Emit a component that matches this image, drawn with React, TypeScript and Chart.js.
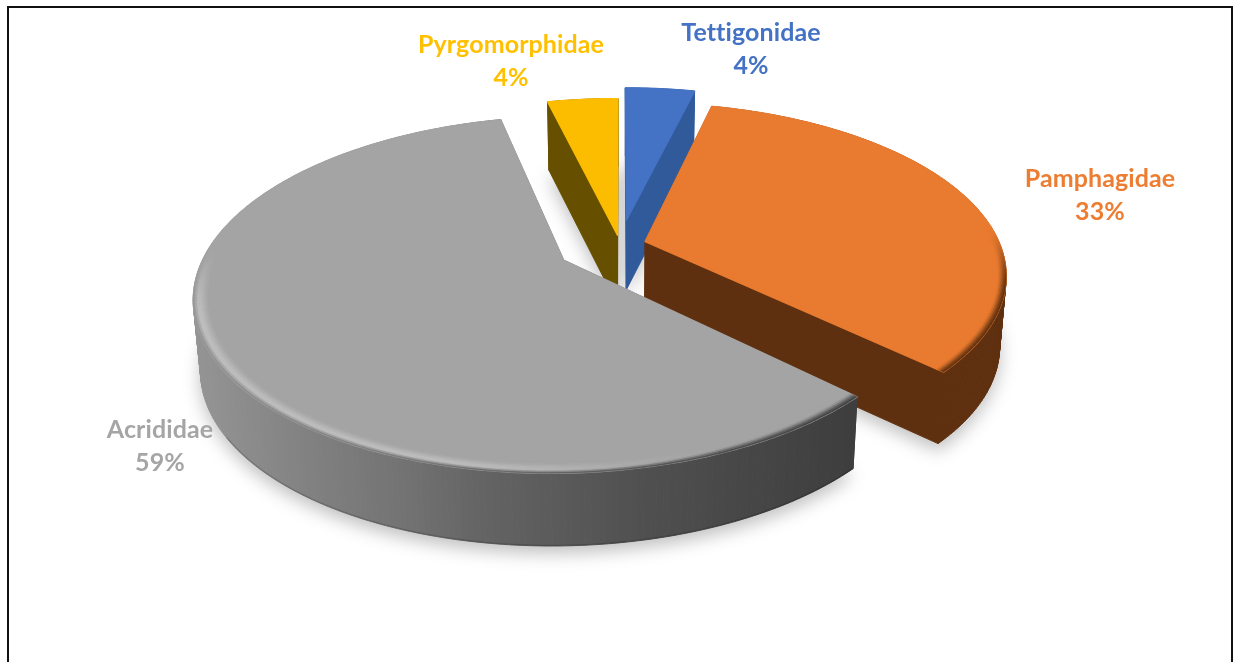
import React, { useEffect, useRef } from "react";
import { Chart, registerables } from "chart.js";

Chart.register(...registerables);

const categories = ["Tettigonidae", "Pamphagidae", "Acrididae", "Pyrgomorphidae"];
const seriesValues = [3.8, 33.3, 59.1, 3.8];
const sliceExplosion = [15.5, 7.4, 18, 6];
const topColors = ["#4472C4", "#E97B30", "#A4A4A4", "#FCBC00"];
const sideColors = ["#315A9B", "#5F300F", "#808080", "#665000"];
const labelColors = ["#4472C4", "#ED7D31", "#A5A5A5", "#FFC000"];
const labelAnchors = [[751, 33], [1100, 179], [160, 430], [511, 45]];

const W = 1233, H = 662;
const view = { x0: 620, y0: 245, p: 0.19 };
const topPlane = { a: 355, b: 166, d: 0 };
const basePlane = { a: 349, b: 168, d: 70 };

type Plane = { a: number; b: number; d: number };
const project = (u: number, v: number, pl: Plane) => {
  const w = 1 - view.p * v;
  return [view.x0 + (pl.a * u) / w, view.y0 + pl.d + (pl.b * v) / w];
};
const hex = (c: string) => [1, 3, 5].map((i) => parseInt(c.slice(i, i + 2), 16));
const mix = (a: number[], b: number[], t: number) => a.map((x, i) => x + (b[i] - x) * t);
const css = (c: number[]) => `rgb(${c.map((x) => Math.round(x)).join(",")})`;
const smooth = (a: number, b: number, x: number) => {
  const t = Math.min(1, Math.max(0, (x - a) / (b - a)));
  return t * t * (3 - 2 * t);
};
const grayRim = (x: number) => {
  const stops: [number, number][] = [[195, 148], [300, 130], [400, 115], [480, 100], [640, 80], [850, 62]];
  if (x <= stops[0][0]) return stops[0][1];
  for (let i = 1; i < stops.length; i++) {
    if (x <= stops[i][0]) {
      const t = (x - stops[i - 1][0]) / (stops[i][0] - stops[i - 1][0]);
      return stops[i - 1][1] + (stops[i][1] - stops[i - 1][1]) * t;
    }
  }
  return 62;
};

const pie3d = {
  id: "pie3d",
  beforeDatasetsDraw(chart: any) {
    const ctx: CanvasRenderingContext2D = chart.ctx;
    const arcs = chart.getDatasetMeta(0).data;
    const slices = arcs.map((arc: any, i: number) => {
      const s = arc.startAngle + Math.PI / 2;
      const e = arc.endAngle + Math.PI / 2;
      const m = (s + e) / 2;
      const off = (arc.options.offset || 0) / 100;
      return { i, s, e, cu: off * Math.sin(m), cv: -off * Math.cos(m) };
    });
    const rimAt = (sl: any, t: number, r: number, pl: Plane) =>
      project(sl.cu + r * Math.sin(t), sl.cv - r * Math.cos(t), pl);
    const angles = (sl: any) => {
      const n = Math.max(4, Math.ceil((sl.e - sl.s) / 0.015));
      return Array.from({ length: n + 1 }, (_, k) => sl.s + ((sl.e - sl.s) * k) / n);
    };
    const outline = (sl: any, pl: Plane) => {
      const pts = [project(sl.cu, sl.cv, pl)];
      angles(sl).forEach((t) => pts.push(rimAt(sl, t, 1, pl)));
      return pts;
    };
    const path = (pts: number[][]) => {
      ctx.beginPath();
      pts.forEach((q, k) => (k ? ctx.lineTo(q[0], q[1]) : ctx.moveTo(q[0], q[1])));
      ctx.closePath();
    };
    ctx.save();
    ctx.lineJoin = "round";
    // soft ground shadow
    slices.forEach((sl: any) => {
      ctx.save();
      ctx.shadowColor = "rgba(0,0,0,0.26)";
      ctx.shadowBlur = 18;
      ctx.shadowOffsetY = 7;
      ctx.fillStyle = "#ffffff";
      path(outline(sl, basePlane));
      ctx.fill();
      ctx.restore();
    });
    const order = [...slices].sort((a: any, b: any) => a.cv - b.cv);
    order.forEach((sl: any) => {
      const top = outline(sl, topPlane);
      const base = outline(sl, basePlane);
      const isGray = sl.i === 2;
      const n = top.length;
      for (let k = 0; k < n; k++) {
        const j = (k + 1) % n;
        const c = isGray
          ? css([0, 0, 0].map(() => grayRim((top[k][0] + top[j][0]) / 2)))
          : sideColors[sl.i];
        ctx.fillStyle = c;
        ctx.strokeStyle = c;
        ctx.lineWidth = 1;
        path([top[k], top[j], base[j], base[k]]);
        ctx.fill();
        ctx.stroke();
      }
      if (isGray) {
        // slightly darker lower edge of the side wall, on its front part only
        ctx.strokeStyle = "rgba(0,0,0,0.16)";
        ctx.lineWidth = 1.4;
        ctx.beginPath();
        let started = false;
        angles(sl).forEach((t) => {
          if (-Math.cos(t) < 0.55) return;
          const q = rimAt(sl, t, 1, basePlane);
          if (started) ctx.lineTo(q[0], q[1] - 0.5);
          else ctx.moveTo(q[0], q[1] - 0.5);
          started = true;
        });
        ctx.stroke();
      }
      ctx.fillStyle = topColors[sl.i];
      ctx.strokeStyle = topColors[sl.i];
      ctx.lineWidth = 1.4;
      path(top);
      ctx.fill();
      ctx.stroke();
      // rim bevel
      const step = isGray ? 0.0055 : 0.004;
      const bands = Array.from({ length: 9 }, (_, k) => k * step);
      const ts = angles(sl);
      const tc = hex(topColors[sl.i]);
      for (let b = 0; b < bands.length - 1; b++) {
        for (let k = 0; k < ts.length - 1; k++) {
          const tm = (ts[k] + ts[k + 1]) / 2;
          const vis = smooth(-0.1, 0.3, -Math.cos(tm));
          if (vis <= 0) continue;
          const a0 = rimAt(sl, ts[k], 1 - bands[b], topPlane);
          const a1 = rimAt(sl, ts[k + 1], 1 - bands[b], topPlane);
          const b0 = rimAt(sl, ts[k + 1], 1 - bands[b + 1], topPlane);
          const b1 = rimAt(sl, ts[k], 1 - bands[b + 1], topPlane);
          const x = (a0[0] + a1[0]) / 2;
          const f = (b + 0.5) / (bands.length - 1);
          let col: number[];
          if (isGray) {
            const g = grayRim(x);
            const hi = 190 - (190 - 164) * smooth(420, 740, x);
            const h = [hi, hi, hi];
            const pk = 0.35 + 0.25 * smooth(600, 850, x);
            col = f < pk ? mix([g, g, g], h, smooth(0, pk, f)) : mix(h, tc, smooth(pk, 1, f));
          } else {
            col = mix(hex(sideColors[sl.i]), tc, smooth(0, 0.8, f));
          }
          col = mix(tc, col, vis);
          const c = css(col);
          ctx.fillStyle = c;
          ctx.strokeStyle = c;
          ctx.lineWidth = 0.6;
          path([a0, a1, b0, b1]);
          ctx.fill();
          ctx.stroke();
        }
      }
    });
    ctx.restore();
    return false;
  },
  afterDraw(chart: any) {
    const ctx: any = chart.ctx;
    const total = seriesValues.reduce((a, b) => a + b, 0);
    ctx.save();
    ctx.textAlign = "center";
    ctx.textBaseline = "middle";
    ctx.font = "bold 25px Lato";
    ctx.letterSpacing = "0.1px";
    categories.forEach((name, i) => {
      const [x, y] = labelAnchors[i];
      ctx.fillStyle = labelColors[i];
      ctx.fillText(name, x, y);
      ctx.fillText(`${Math.round((seriesValues[i] / total) * 100)}%`, x, y + 33);
    });
    // chart-area frame (bottom edge lies outside the picture)
    ctx.fillStyle = "#111111";
    ctx.fillRect(7, 6, 1226, 2);
    ctx.fillRect(7, 6, 2, H - 6);
    ctx.fillRect(1231, 6, 2, H - 6);
    ctx.restore();
  },
};

export default function App() {
  const ref = useRef<HTMLCanvasElement>(null);
  useEffect(() => {
    document.body.style.margin = "0";
    document.body.style.overflow = "hidden";
    const chart = new Chart(ref.current as HTMLCanvasElement, {
      type: "pie",
      data: {
        labels: categories,
        datasets: [{ data: seriesValues, backgroundColor: topColors, borderWidth: 0, offset: sliceExplosion }],
      },
      options: {
        responsive: false,
        animation: false,
        events: [],
        plugins: { legend: { display: false }, tooltip: { enabled: false } },
      },
      plugins: [pie3d],
    } as any);
    return () => chart.destroy();
  }, []);
  return <canvas ref={ref} width={W} height={H} style={{ display: "block", width: W, height: H, background: "#fff" }} />;
}
